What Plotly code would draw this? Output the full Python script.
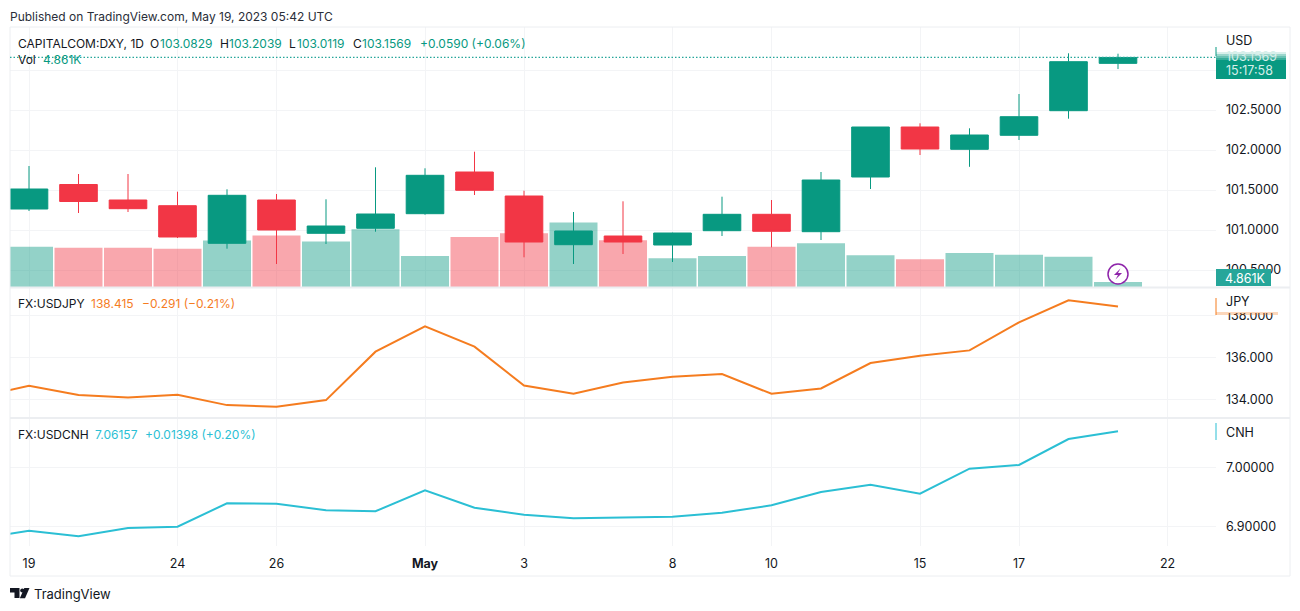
import plotly.graph_objects as go

W, H = 1300, 611

# daily bars, May 19 is the last (still open) one
day_labels = ["19", "20", "21", "24", "25", "26", "27", "28", "May", "2", "3", "4",
              "5", "8", "9", "10", "11", "12", "15", "16", "17", "18", "19", "22"]
tick_idx = [0, 3, 5, 8, 10, 13, 15, 18, 20, 23]

dxy_open = [101.2625, 101.5688, 101.375, 101.3038, 100.8337, 101.375, 100.9587, 101.0212,
            101.2038, 101.725, 101.425, 100.8162, 100.925, 100.8125, 100.9912, 101.1962,
            100.9788, 101.6625, 102.2875, 102.0088, 102.1838, 102.4913, 103.0829]
dxy_high = [101.80, 101.70, 101.70, 101.4788, 101.5087, 101.45, 101.3838, 101.7837,
            101.7712, 101.9788, 101.4912, 101.225, 101.3588, 100.9662, 101.4162, 101.375,
            101.725, 102.2875, 102.3338, 102.2712, 102.70, 103.2088, 103.2039]
dxy_low = [101.2375, 101.2125, 101.225, 100.90, 100.7662, 100.575, 100.825, 100.9788,
           101.1912, 101.4375, 100.6588, 100.575, 100.70, 100.60, 100.925, 100.7838,
           100.875, 101.5125, 101.9375, 101.79, 102.125, 102.3912, 103.0119]
dxy_close = [101.5125, 101.3563, 101.2663, 100.9125, 101.4337, 101.0, 101.05, 101.20,
             101.6838, 101.4962, 100.85, 100.9875, 100.85, 100.9625, 101.1962, 100.9838,
             101.625, 102.2875, 102.0125, 102.1875, 102.4163, 103.1038, 103.1569]
volume = [39, 38, 38, 37, 45, 50, 44, 56, 30, 48.5, 52, 62.4,
          45.3, 27.8, 30, 39, 42.4, 30.7, 26.9, 33, 31.3, 29.4, 4.861]

# the two compare lines start one bar left of the visible range
usdjpy = [134.133, 134.664, 134.223, 134.109, 134.237, 133.749, 133.668, 133.986, 136.275,
          137.474, 136.512, 134.678, 134.284, 134.82, 135.09, 135.218, 134.284, 134.536,
          135.739, 136.085, 136.336, 137.664, 138.706, 138.415]
usdcnh = [6.8797, 6.8929, 6.8834, 6.8975, 6.8997, 6.9393, 6.9386, 6.9275, 6.9258,
          6.9614, 6.9319, 6.92, 6.9139, 6.9156, 6.9166, 6.9234, 6.9359, 6.9585,
          6.9708, 6.9556, 6.998, 7.0042, 7.0483, 7.06157]

GREEN = "#089981"
RED = "#F23645"
ORANGE = "#F57C1F"
CYAN = "#2BBFD4"
INK = "#131722"
GRID = "#F3F4F6"
FRAME = "#ECEEF1"
FONT = "Inter"


def px(x):
    return x / W


def py(y):
    return 1 - y / H


xs = list(range(len(dxy_open)))
line_xs = list(range(-1, len(dxy_open)))
vol_colors = ["rgba(8,153,129,0.44)" if c >= o else "rgba(242,54,69,0.44)"
              for o, c in zip(dxy_open, dxy_close)]

fig = go.Figure()
fig.add_trace(go.Bar(x=xs, y=volume, marker=dict(color=vol_colors, line_width=0),
                     xaxis="x", yaxis="y"))
fig.add_trace(go.Candlestick(x=xs, open=dxy_open, high=dxy_high, low=dxy_low, close=dxy_close,
                             increasing=dict(line=dict(color=GREEN, width=1), fillcolor=GREEN),
                             decreasing=dict(line=dict(color=RED, width=1), fillcolor=RED),
                             whiskerwidth=0, xaxis="x", yaxis="y4"))
fig.add_trace(go.Scatter(x=line_xs, y=usdjpy, mode="lines", line=dict(color=ORANGE, width=2),
                         xaxis="x2", yaxis="y2"))
fig.add_trace(go.Scatter(x=line_xs, y=usdcnh, mode="lines", line=dict(color=CYAN, width=2),
                         xaxis="x3", yaxis="y3"))

x_range = [(10 - 29) / 49.5, (1216 - 29) / 49.5]
x_common = dict(range=x_range, domain=[px(10), px(1216)], showgrid=True, gridcolor=GRID,
                gridwidth=1, zeroline=False, tickmode="array", tickvals=tick_idx,
                showline=False)
y_common = dict(side="right", showgrid=True, gridcolor=GRID, gridwidth=1, zeroline=False,
                showline=False, ticklabelstandoff=9,
                tickfont=dict(family=FONT, size=12.5, color=INK))

annotations = []
shapes = []


def add_text(x, y, text, color=INK, size=12, anchor="left"):
    annotations.append(dict(x=px(x - 1), y=py(y), xref="paper", yref="paper", text=text,
                            showarrow=False, xanchor=anchor, yanchor="middle", borderpad=0,
                            align="left", font=dict(family=FONT, size=size, color=color)))


def add_rect(x0, y0, x1, y1, fill, line_width=0, line_color=None):
    shapes.append(dict(type="rect", xref="paper", yref="paper", x0=px(x0), x1=px(x1),
                       y0=py(y0), y1=py(y1), fillcolor=fill, layer="above",
                       line=dict(width=line_width, color=line_color)))


def add_line(x0, y0, x1, y1, color, width=1):
    shapes.append(dict(type="line", xref="paper", yref="paper", x0=px(x0), x1=px(x1),
                       y0=py(y0), y1=py(y1), layer="above", line=dict(color=color, width=width)))


def add_path(points, fill):
    path = "M" + " L".join(f"{px(a):.5f},{py(b):.5f}" for a, b in points) + " Z"
    shapes.append(dict(type="path", xref="paper", yref="paper", path=path, fillcolor=fill,
                       layer="above", line=dict(width=0)))


# outer frame and pane separators
add_line(10, 27, 1290, 27, FRAME)
add_line(10, 576, 1290, 576, FRAME)
add_line(10, 27, 10, 576, FRAME)
add_line(1290, 27, 1290, 576, FRAME)
add_line(10, 287.5, 1290, 287.5, FRAME, 2)
add_line(10, 418, 1290, 418, FRAME, 2)

# dotted last price line
shapes.append(dict(type="line", xref="paper", yref="y4", x0=px(10), x1=px(1216),
                   y0=dxy_close[-1], y1=dxy_close[-1], layer="above",
                   line=dict(color="#26A69A", width=1.2, dash="1.5px,2px")))

# price scale labels, the top of the last price box fades out
add_rect(1216, 52, 1286, 79, GREEN)
for i, alpha in enumerate([0.85, 0.6, 0.4, 0.2]):
    add_rect(1216, 52 + i * 2, 1286, 54 + i * 2, f"rgba(255,255,255,{alpha})")
add_line(1216, 47, 1216, 56, GREEN, 1)
add_text(1226, 40, "USD", size=12.5)
add_text(1226, 57, "103.1569", "#D6EFEA", 12.5)
add_text(1226, 71, "15:17:58", "#D6EFEA", 12.5)
add_rect(1216, 269, 1271, 286, "#26A69A")
add_text(1225, 278, "4.861K", "#FFFFFF", 12.5)

add_rect(1217, 297, 1278, 313, "#FFFFFF")
add_rect(1216, 312, 1278, 315, "rgba(245,124,31,0.3)")
add_line(1216, 298, 1216, 315, ORANGE, 1)
add_text(1226, 301, "JPY", size=12.5)
add_line(1216, 423, 1216, 440, CYAN, 1)
add_text(1226, 432, "CNH", size=12.5)

# header and legends
add_text(10, 16, "Published on TradingView.com, May 19, 2023 05:42 UTC", "#2A2E39")
add_text(18, 43.5, "CAPITALCOM:DXY, 1D")
for lx, name, vx, val in [(150, "O", 160, "103.0829"), (220, "H", 229, "103.2039"),
                          (289, "L", 296.5, "103.0119"), (352.5, "C", 361.5, "103.1569")]:
    add_text(lx, 43.5, name)
    add_text(vx, 43.5, val, GREEN)
add_text(420, 43.5, "+0.0590 (+0.06%)", GREEN)
add_text(18, 60, "Vol")
add_text(42.5, 60, "4.861K", GREEN)
add_text(18, 303, "FX:USDJPY")
add_text(90.5, 303, "138.415", ORANGE)
add_text(142, 303, "−0.291 (−0.21%)", ORANGE)
add_text(18, 434, "FX:USDCNH")
add_text(95, 434, "7.06157", CYAN)
add_text(145, 434, "+0.01398 (+0.20%)", CYAN)

# TradingView logo and name
add_path([(10, 588), (19.5, 588), (19.5, 598), (14.5, 598), (14.5, 592.5), (10, 592.5)], INK)
add_path([(24.3, 588), (29.5, 588), (25, 598.3), (19.8, 598.3)], INK)
shapes.append(dict(type="circle", xref="paper", yref="paper", x0=px(20.2), x1=px(24.4),
                   y0=py(592.6), y1=py(588.4), fillcolor=INK, layer="above", line=dict(width=0)))
add_text(34, 594, "TradingView", INK, 13)

# lightning marker on the last bar
shapes.append(dict(type="circle", xref="paper", yref="paper", x0=px(1108), x1=px(1128),
                   y0=py(284), y1=py(264), fillcolor="#FFFFFF", layer="above",
                   line=dict(color="#8E24AA", width=1.5)))
add_path([(1120.5, 268.5), (1114, 275), (1118, 275), (1115.5, 279.5), (1122, 273), (1118, 273)],
         "#8E24AA")

tick_text = [f"<b>{day_labels[i]}</b>" if day_labels[i] == "May" else day_labels[i]
             for i in tick_idx]

# 103.0000 sits behind the last price label, so it only keeps its grid line
dxy_ticks = [100.5, 101, 101.5, 102, 102.5, 103]
dxy_tick_text = [f"{v:.4f}" for v in dxy_ticks[:-1]] + [""]

fig.update_layout(
    width=W, height=H, margin=dict(l=0, r=0, t=0, b=0), autosize=False,
    paper_bgcolor="#FFFFFF", plot_bgcolor="#FFFFFF", showlegend=False, hovermode=False,
    bargap=0.03, boxgap=0.24, boxgroupgap=0,
    xaxis=dict(x_common, anchor="y", showticklabels=False, rangeslider=dict(visible=False),
               ticks=""),
    xaxis2=dict(x_common, anchor="y2", matches="x", showticklabels=False, ticks=""),
    xaxis3=dict(x_common, anchor="y3", matches="x", ticktext=tick_text, ticks="outside",
                ticklen=6, tickcolor="rgba(0,0,0,0)",
                tickfont=dict(family=FONT, size=12.5, color=INK)),
    # volume pane shares the candle pane, its axis stays hidden
    yaxis=dict(domain=[py(287), py(27)], range=[0, 252], visible=False, anchor="x"),
    yaxis4=dict(y_common, domain=[py(287), py(27)], range=[100.2875, 103.5375],
                overlaying="y", anchor="x", tickmode="array",
                tickvals=dxy_ticks, ticktext=dxy_tick_text),
    yaxis2=dict(y_common, domain=[py(418), py(288)], range=[133.14, 139.286], anchor="x2",
                tickmode="array", tickvals=[134, 136, 138], tickformat=".3f"),
    yaxis3=dict(y_common, domain=[py(546), py(419)], range=[6.8669, 7.0822], anchor="x3",
                tickmode="array", tickvals=[6.9, 7.0], tickformat=".5f"),
    annotations=annotations,
    shapes=shapes,
)

fig.write_html("out.html", config=dict(displayModeBar=False),
               post_script="document.body.style.margin='0';")
